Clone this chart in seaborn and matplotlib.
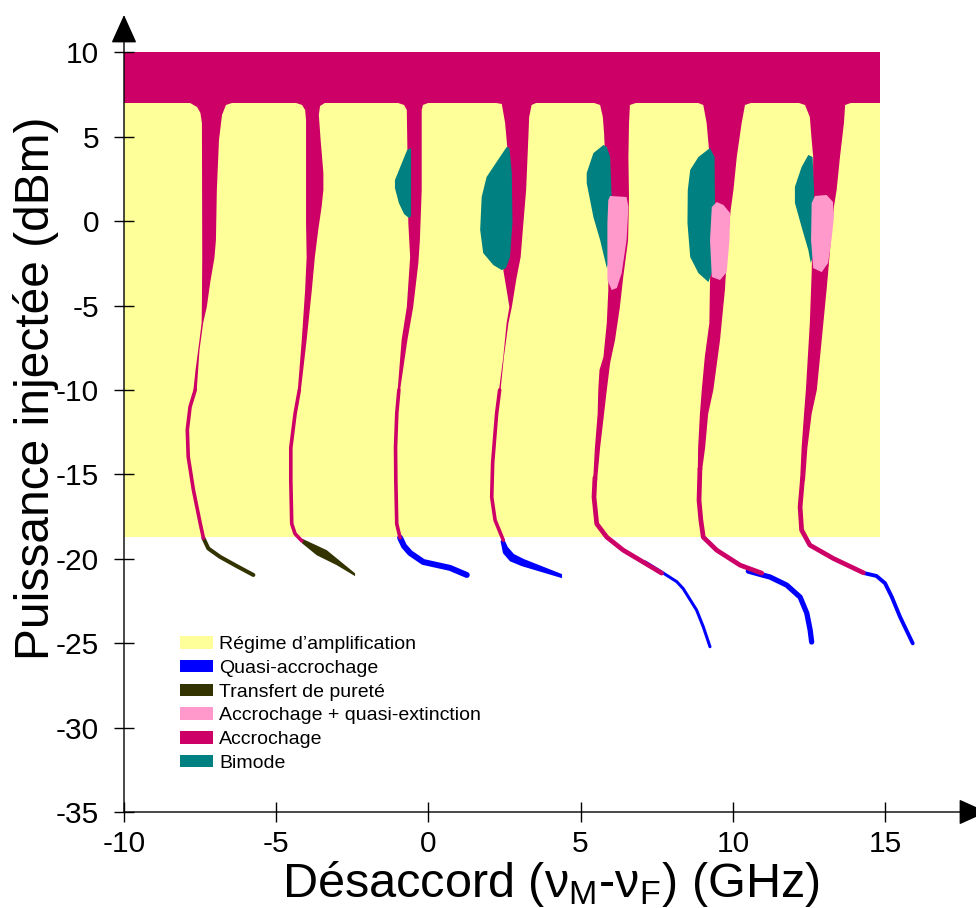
import seaborn as sns
import matplotlib.pyplot as plt
from matplotlib.patches import Patch

# -------------------------------
# Colours of the regimes
# -------------------------------
c_ampli = "#FFFF99"
c_quasi = "#0000FF"
c_transf = "#333300"
c_extinct = "#FF99CC"
c_accro = "#CC0066"
c_bimode = "#008080"

legend_labels = [
    "Régime d’amplification",
    "Quasi-accrochage",
    "Transfert de pureté",
    "Accrochage + quasi-extinction",
    "Accrochage",
    "Bimode",
]
legend_colors = [c_ampli, c_quasi, c_transf, c_extinct, c_accro, c_bimode]

x_ticks = [-10, -5, 0, 5, 10, 15]
y_ticks = [10, 5, 0, -5, -10, -15, -20, -25, -30, -35]

# -------------------------------
# Regions (detuning GHz, power dBm)
# -------------------------------
ampli_x = [-10, 14.83]
ampli_y = [-18.7, 7.0]
band_y = [7.0, 10.0]

# accrochage tongues : left / right boundaries
tongue1_left = [(-7.83, 7.0), (-7.60, 6.76), (-7.49, 6.41), (-7.44, 5.81), (-7.43, -2.13),
                (-7.44, -4.66), (-7.45, -6.03), (-7.54, -7.33), (-7.65, -8.82), (-7.72, -10.0)]
tongue1_right = [(-6.45, 7.0), (-6.65, 6.88), (-6.78, 6.29), (-6.88, 4.80), (-6.95, 1.84),
                 (-6.98, -1.12), (-7.03, -2.18), (-7.17, -3.66), (-7.28, -5.08), (-7.40, -6.03),
                 (-7.52, -7.63), (-7.61, -10.0)]

tongue2_left = [(-4.35, 7.0), (-4.15, 6.88), (-4.05, 6.58), (-4.02, 5.99), (-4.02, -0.11),
                (-4.00, -2.13), (-4.05, -4.08), (-4.16, -7.04), (-4.29, -10.0)]
tongue2_right = [(-3.40, 7.0), (-3.56, 6.82), (-3.60, 6.29), (-3.54, 4.80), (-3.45, 2.85),
                 (-3.45, 1.84), (-3.51, 0.83), (-3.62, -0.53), (-3.73, -2.13), (-3.83, -4.08),
                 (-4.00, -7.04), (-4.19, -10.0)]

tongue3_left = [(-1.00, 7.0), (-0.80, 6.88), (-0.71, 6.58), (-0.69, 4.21), (-0.66, -0.11),
                (-0.60, -2.13), (-0.71, -5.09), (-0.88, -7.04), (-1.01, -10.0)]
tongue3_right = [(-0.01, 7.0), (-0.18, 6.88), (-0.22, 6.58), (-0.22, 1.84), (-0.28, -1.12),
                 (-0.33, -2.48), (-0.50, -5.09), (-0.69, -7.04), (-0.93, -10.0)]

tongue4_left = [(2.22, 7.0), (2.41, 6.94), (2.52, 5.81), (2.59, 4.39), (2.68, 1.84), (2.68, -1.12),
                (2.55, -2.42), (2.46, -2.90), (2.57, -4.08), (2.66, -5.09), (2.57, -6.03),
                (2.46, -8.04), (2.32, -10.0)]
tongue4_right = [(3.54, 7.0), (3.39, 6.88), (3.31, 6.17), (3.28, 4.80), (3.21, 1.84), (3.12, -0.11),
                 (3.03, -2.13), (2.90, -3.31), (2.74, -5.09), (2.63, -6.03), (2.48, -8.04),
                 (2.37, -10.0)]

tongue5_left = [(5.44, 7.0), (5.64, 6.88), (5.73, 6.17), (5.77, 5.22), (5.84, 2.43), (5.90, -0.52),
                (5.91, -4.08), (5.86, -6.03), (5.75, -8.04), (5.62, -8.82), (5.58, -10.0),
                (5.56, -11.41), (5.47, -13.42), (5.41, -15.38)]
tongue5_right = [(6.82, 7.0), (6.62, 6.88), (6.59, 5.81), (6.57, 3.80), (6.59, 1.43), (6.56, -1.12),
                 (6.40, -3.31), (6.29, -5.09), (6.13, -7.04), (5.97, -8.40), (5.86, -10.0),
                 (5.77, -11.41), (5.64, -13.42), (5.54, -15.38)]

tongue6_left = [(8.86, 7.0), (9.03, 6.88), (9.14, 5.81), (9.19, 4.80), (9.25, 3.62), (9.32, 1.25),
                (9.28, -1.71), (9.25, -3.66), (9.23, -6.03), (9.08, -8.04), (8.98, -10.0),
                (8.92, -11.41), (8.86, -13.42), (8.85, -14.76)]
tongue6_right = [(10.60, 7.0), (10.40, 6.88), (10.29, 5.81), (10.13, 3.80), (10.02, 1.84),
                 (9.93, 0.66), (9.84, -1.12), (9.74, -4.08), (9.58, -7.04), (9.36, -10.0),
                 (9.19, -11.41), (9.09, -13.42), (8.99, -14.76)]

tongue7_left = [(12.17, 7.0), (12.37, 6.88), (12.53, 6.17), (12.59, 4.80), (12.64, 3.80),
                (12.63, 1.25), (12.60, -2.30), (12.59, -3.07), (12.53, -6.03), (12.40, -10.0),
                (12.34, -11.41), (12.26, -13.42), (12.21, -15.38)]
tongue7_right = [(13.88, 7.0), (13.69, 6.88), (13.65, 5.81), (13.52, 3.80), (13.41, 1.84),
                 (13.32, 0.83), (13.22, -1.12), (13.13, -3.07), (13.08, -4.08), (12.92, -7.04),
                 (12.76, -10.0), (12.59, -11.41), (12.45, -13.42), (12.37, -15.38)]

# bimode islands
bimode3 = [(-0.57, 4.33), (-0.70, 4.21), (-0.90, 3.32), (-1.10, 2.43), (-1.10, 1.96),
           (-0.97, 1.07), (-0.80, 0.42), (-0.64, 0.18), (-0.57, 0.30)]
bimode4 = [(2.57, 4.39), (2.35, 3.80), (1.91, 2.61), (1.75, 1.43), (1.70, -0.52), (1.80, -1.89),
           (2.13, -2.60), (2.41, -2.90), (2.55, -2.78), (2.68, -2.13), (2.76, -0.11),
           (2.74, 2.85), (2.66, 4.33)]
bimode5 = [(5.75, 4.51), (5.42, 4.03), (5.20, 2.85), (5.20, 2.26), (5.42, 0.24), (5.64, -1.12),
           (5.86, -2.78), (5.93, -2.42), (6.02, 1.43), (5.97, 3.80), (5.86, 4.39)]
bimode6 = [(9.25, 4.33), (8.87, 3.80), (8.60, 3.03), (8.52, 1.84), (8.51, -0.11), (8.60, -2.13),
           (8.87, -3.08), (9.20, -3.61), (9.42, -2.50), (9.42, -0.11), (9.40, 3.80)]
bimode7 = [(12.48, 3.92), (12.26, 3.21), (12.04, 2.03), (12.04, 1.08), (12.26, -0.35),
           (12.48, -1.71), (12.56, -2.48), (12.65, -2.00), (12.67, 1.84), (12.62, 3.80)]

# accrochage + quasi-extinction islands
extinct5 = [(5.97, 1.49), (6.51, 1.43), (6.57, 0.83), (6.51, -1.12), (6.35, -3.07), (6.19, -3.96),
            (6.02, -4.08), (5.88, -3.49), (5.88, -0.11), (5.91, 1.25)]
extinct6 = [(9.47, 1.13), (9.69, 0.96), (9.91, 0.48), (9.89, -1.12), (9.80, -3.02), (9.58, -3.49),
            (9.31, -3.31), (9.25, -1.12), (9.31, 0.83)]
extinct7 = [(12.70, 1.49), (13.08, 1.55), (13.29, 1.14), (13.32, 0.24), (13.24, -1.12),
            (13.13, -2.48), (12.92, -3.02), (12.64, -2.78), (12.57, -1.12), (12.59, 1.07)]

# thin accrochage tails
tail1 = [(-7.66, -10.0), (-7.83, -11.0), (-7.92, -12.36), (-7.89, -13.96), (-7.72, -15.92),
         (-7.50, -17.87), (-7.39, -18.78)]
tail2 = [(-4.24, -10.0), (-4.38, -11.41), (-4.52, -13.42), (-4.52, -15.38), (-4.49, -17.93),
         (-4.38, -18.52), (-4.16, -18.94)]
tail3 = [(-0.97, -10.0), (-1.04, -11.41), (-1.08, -13.42), (-1.07, -15.38), (-1.04, -17.93),
         (-0.93, -18.76)]
tail4 = [(2.34, -10.0), (2.24, -11.41), (2.11, -14.33), (2.08, -16.35), (2.19, -17.71),
         (2.46, -18.90)]
tail5 = [(5.47, -15.20), (5.44, -16.35), (5.53, -17.93), (5.86, -18.72), (6.40, -19.49),
         (7.06, -20.20), (7.66, -20.85)]
tail6 = [(8.92, -14.64), (8.89, -16.53), (8.95, -17.71), (9.03, -18.72), (9.47, -19.49),
         (10.24, -20.38), (10.95, -20.85)]
tail7 = [(12.29, -15.24), (12.21, -16.93), (12.26, -18.30), (12.53, -19.19), (13.30, -19.98),
         (14.29, -20.83)]

# transfert de purete
transf1 = [(-7.39, -18.78), (-7.23, -19.39), (-6.85, -19.88), (-6.30, -20.43), (-5.75, -20.96)]
transf2 = [(-4.16, -18.80), (-3.34, -19.49), (-2.41, -20.86), (-2.41, -21.03), (-3.01, -20.38),
           (-3.67, -19.79), (-4.16, -19.07)]

# quasi-accrochage
quasi3 = [(-0.93, -18.76), (-0.80, -19.25), (-0.60, -19.66), (-0.17, -20.19), (0.71, -20.54),
          (1.26, -20.96)]
quasi4 = [(2.47, -18.77), (2.61, -19.31), (2.81, -19.72), (3.14, -20.02), (4.39, -20.91),
          (4.39, -21.15), (3.07, -20.44), (2.68, -20.15), (2.45, -19.67), (2.37, -18.96)]
quasi5 = [(7.12, -20.19), (7.71, -20.84), (8.16, -21.36), (8.37, -21.77), (8.81, -23.04),
          (9.03, -24.03), (9.25, -25.21)]
quasi6 = [(10.51, -20.73), (10.99, -20.97), (11.22, -21.08), (11.77, -21.56), (12.21, -22.27),
          (12.43, -23.22), (12.54, -24.22), (12.59, -24.93)]
quasi7 = [(14.34, -20.86), (14.72, -21.02), (15.00, -21.45), (15.22, -22.25), (15.49, -23.43),
          (15.91, -25.01)]


# -------------------------------
# Style
# -------------------------------
sns.set_theme(style="white")
plt.rcParams["font.family"] = ["Liberation Sans", "DejaVu Sans"]
plt.rcParams["axes.unicode_minus"] = False
plt.rcParams["mathtext.fontset"] = "custom"
plt.rcParams["mathtext.rm"] = "Liberation Sans"
plt.rcParams["mathtext.it"] = "Liberation Sans:italic"
plt.rcParams["text.color"] = "black"
plt.rcParams["xtick.color"] = "black"
plt.rcParams["ytick.color"] = "black"


def poly(ax, pts, color, z=1):
    xs = [p[0] for p in pts]
    ys = [p[1] for p in pts]
    ax.fill(xs, ys, color=color, lw=0, zorder=z)


def curve(ax, pts, color, lw, z=2):
    sns.lineplot(x=[p[0] for p in pts], y=[p[1] for p in pts], sort=False, estimator=None,
                 color=color, linewidth=lw, ax=ax, zorder=z, solid_capstyle="round",
                 solid_joinstyle="round")


fig = plt.figure(figsize=(9.76, 9.08), dpi=100)
ax = fig.add_axes([0.12705, 0.10573, 0.88422, 0.87775])

# background regions
ax.fill_between(ampli_x, ampli_y[0], ampli_y[1], color=c_ampli, lw=0, zorder=0.5)
ax.fill_between(ampli_x, band_y[0], band_y[1], color=c_accro, lw=0, zorder=0.6)

# tongues
tongues = [
    (tongue1_left, tongue1_right), (tongue2_left, tongue2_right), (tongue3_left, tongue3_right),
    (tongue4_left, tongue4_right), (tongue5_left, tongue5_right), (tongue6_left, tongue6_right),
    (tongue7_left, tongue7_right),
]
for left, right in tongues:
    poly(ax, left + right[::-1], c_accro, 1)

for b in [bimode3, bimode4, bimode5, bimode6, bimode7]:
    poly(ax, b, c_bimode, 1.2)
for e in [extinct5, extinct6, extinct7]:
    poly(ax, e, c_extinct, 1.3)

# quasi-accrochage (under the accrochage tails)
curve(ax, quasi3, c_quasi, 4.3)
poly(ax, quasi4, c_quasi, 1.4)
curve(ax, quasi5, c_quasi, 2.2)
curve(ax, quasi6, c_quasi, 3.8)
curve(ax, quasi7, c_quasi, 2.8)

# transfert de purete
curve(ax, transf1, c_transf, 2.9)
poly(ax, transf2, c_transf, 1.4)

# accrochage tails
for t in [tail1, tail2, tail3, tail4]:
    curve(ax, t, c_accro, 2.6, 2.1)
for t in [tail5, tail6, tail7]:
    curve(ax, t, c_accro, 3.4, 2.1)

# -------------------------------
# Axes
# -------------------------------
ax.set_xlim(-10, 18.35)
ax.set_ylim(-35, 12.21)
for s in ax.spines.values():
    s.set_visible(False)
ax.set_xticks(x_ticks)
ax.set_yticks(y_ticks)
ax.tick_params(direction="inout", length=14, width=1, color="black", labelsize=21.5,
               labelcolor="black", bottom=True, left=True)
ax.tick_params(axis="x", pad=6)
ax.tick_params(axis="y", pad=11)
ax.set_axisbelow(False)
ax.set_xlabel("")
ax.set_ylabel("")

arrow = dict(arrowstyle="-|>,head_length=1.0,head_width=0.45", color="black", lw=1,
             shrinkA=0, shrinkB=0, mutation_scale=18)
ax.annotate("", xy=(0, 1), xycoords="axes fraction", xytext=(0, 0), arrowprops=arrow,
            annotation_clip=False)
ax.annotate("", xy=(1, 0), xycoords="axes fraction", xytext=(0, 0), arrowprops=arrow,
            annotation_clip=False)

fig.text(551 / 976, 1 - 897 / 908, r"Désaccord (ν$_\mathrm{M}$-ν$_\mathrm{F}$) (GHz)",
         fontsize=35, ha="center", va="baseline")
fig.text(36 / 976, 1 - 388 / 908, "Puissance injectée (dBm)", fontsize=34.5,
         rotation=90, ha="center", va="center")

handles = [Patch(facecolor=c, edgecolor="none") for c in legend_colors]
ax.legend(handles=handles, labels=legend_labels, loc="upper left",
          bbox_to_anchor=(180 / 976, 1 - 636 / 908), bbox_transform=fig.transFigure,
          frameon=False, fontsize=14, handlelength=1.7, handleheight=0.62,
          handletextpad=0.3, labelspacing=0.34, borderpad=0, borderaxespad=0)

fig.savefig("out.png", dpi=100)
